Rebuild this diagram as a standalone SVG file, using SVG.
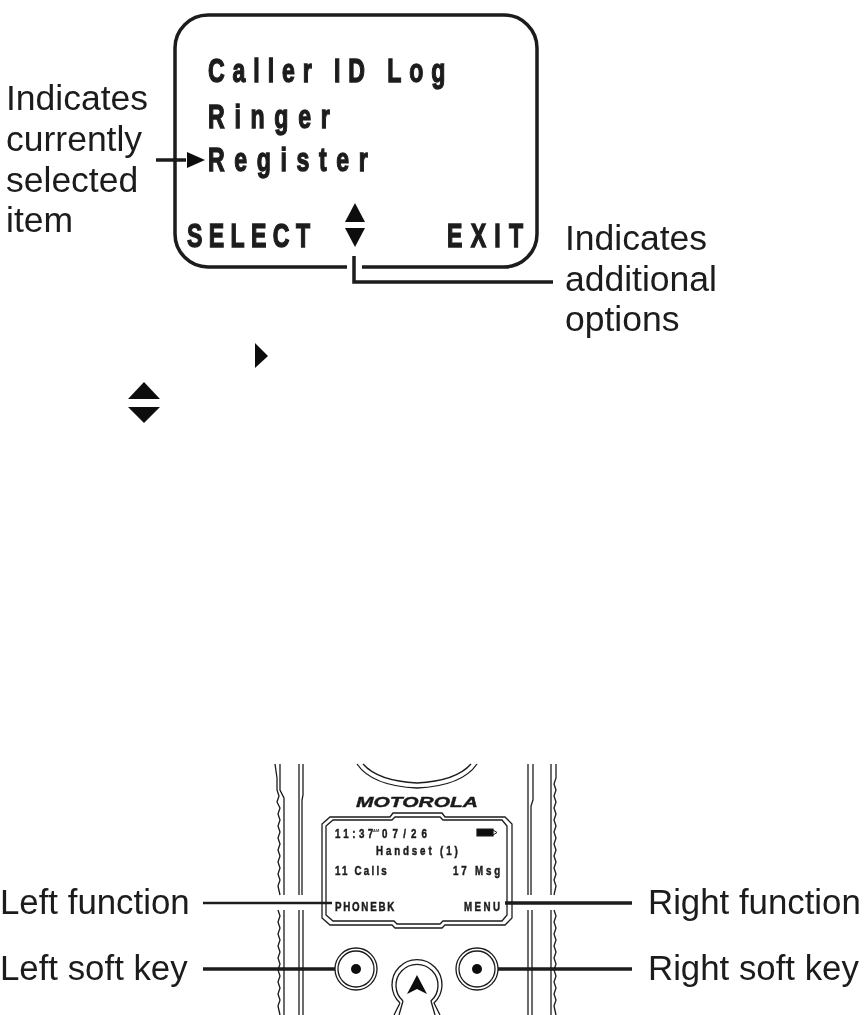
<svg xmlns="http://www.w3.org/2000/svg" width="865" height="1015" viewBox="0 0 865 1015">
<defs>
<style>
.lab{font-family:"Liberation Sans",Arial,sans-serif;font-size:35.500px;fill:#1a1a1a}
.lab2{font-family:"Liberation Sans",Arial,sans-serif;font-size:34.800px;fill:#1a1a1a}
.lcd{font-family:"Liberation Sans",Arial,sans-serif;font-weight:700;font-size:34px;fill:#1c1c1c;stroke:#1c1c1c;stroke-width:1.400px}
.sm{font-family:"Liberation Sans",Arial,sans-serif;font-weight:700;font-size:13px;fill:#1c1c1c;stroke:#1c1c1c;stroke-width:.5px}
.ln{fill:none;stroke:#1a1a1a;stroke-width:3.500px}
.ln2{fill:none;stroke:#1a1a1a;stroke-width:2.500px}
.th{fill:none;stroke:#1a1a1a;stroke-width:1.300px}
.tri{fill:#111}
</style>
<filter id="soft" x="-5%" y="-5%" width="110%" height="110%"><feGaussianBlur stdDeviation="0.45"/></filter>
</defs>
<rect width="865" height="1015" fill="#fff"/>
<g filter="url(#soft)">
<g id="screen">
<path class="ln" d="M347 267H208A33 33 0 0 1 175 234V48A33 33 0 0 1 208 15H504A33 33 0 0 1 537 48V234A33 33 0 0 1 504 267H362"/>
<text class="lcd" transform="translate(208 82) scale(.68 1)" textLength="349" lengthAdjust="spacing">Caller ID Log</text>
<text class="lcd" transform="translate(208 128) scale(.68 1)" textLength="179" lengthAdjust="spacing">Ringer</text>
<text class="lcd" transform="translate(208 171) scale(.68 1)" textLength="235" lengthAdjust="spacing">Register</text>
<text class="lcd" transform="translate(187 247) scale(.68 1)" textLength="181" lengthAdjust="spacing">SELECT</text>
<text class="lcd" transform="translate(447 247) scale(.68 1)" textLength="112" lengthAdjust="spacing">EXIT</text>
<polygon class="tri" points="187,152 205,160 187,168"/>
<polygon class="tri" points="355,203 365,222 345,222"/>
<polygon class="tri" points="345,228 365,228 355,247"/>
</g>
<g id="label-selected">
<text class="lab" x="6" y="110">Indicates</text>
<text class="lab" x="6" y="151">currently</text>
<text class="lab" x="6" y="192">selected</text>
<text class="lab" x="6" y="232">item</text>
</g>
<g id="label-options">
<text class="lab" x="565" y="250">Indicates</text>
<text class="lab" x="565" y="291">additional</text>
<text class="lab" x="565" y="331">options</text>
</g>
<g id="symbol-right"><polygon class="tri" points="255,343 268,356 255,368"/></g>
<g id="symbol-updown">
<polygon class="tri" points="144,382 160,399 128,399"/>
<polygon class="tri" points="128,407 160,407 144,423"/>
</g>
<g id="phone">
<g id="phone-body">
<path class="th" d="M275 764L277 778V790L279 796 277 802 280 808 278 814 280 820 278 826 280 832 278 838 280 844 278 850 280 856 278 862 280 868 278 874 280 880 278 886 280 895M278 910L280 916 278 922 280 928 278 934 280 940 278 946 280 952 278 958 280 964 278 970 280 976 278 982 280 988 278 994 280 1000 278 1006 280 1015"/>
<path class="th" d="M280 764V790L284 798V895M284 910V1015"/>
<path class="th" d="M299 764V895M299 910V1015"/>
<path class="th" d="M303 764V795L302 800V895M303 910V1015"/>
<path class="th" d="M528 764V895M528 910V1015"/>
<path class="th" d="M533 764V800L531 806V895M532 910V1015"/>
<path class="th" d="M551 764V895M551 910V1015"/>
<path class="th" d="M556 764V778L554 784 556 790 554 796 556 802 554 808 556 814 554 820 556 826 554 832 556 838 554 844 556 850 554 856 556 862 554 868 556 874 554 880 556 886 554 895M554 910L556 916 554 922 556 928 554 934 556 940 554 946 556 952 554 958 556 964 554 970 556 976 554 982 556 988 554 994 556 1000 554 1006 556 1015"/>
<path class="th" d="M357 764Q372 786 417 788Q462 786 477 764"/>
<path class="th" d="M363 764Q378 781 417 783Q456 781 471 764"/>
<text x="356" y="807" font-family="Liberation Sans,Arial,sans-serif" font-weight="700" font-style="italic" font-size="15.500" fill="#1a1a1a" stroke="#1a1a1a" stroke-width=".4" textLength="122" lengthAdjust="spacingAndGlyphs">MOTOROLA</text>
</g>
<g id="phone-display">
<path class="th" d="M330 817H390L393 813H442L445 817H505L512 824V918L505 925H445L442 928H395L392 925H330L322 918V824Z"/>
<path class="th" d="M333 820H392L395 817H440L443 820H502L507 826V915L502 921H443L440 924H397L394 921H333L326 915V826Z"/>
<text class="sm" transform="translate(335 838) scale(.75 1)" textLength="51" lengthAdjust="spacing">11:37</text>
<text class="sm" transform="translate(382 838) scale(.75 1)" textLength="60" lengthAdjust="spacing">07/26</text>
<text font-family="Liberation Sans,Arial,sans-serif" font-weight="700" font-size="4" fill="#333" x="373" y="832">AM</text>
<path d="M477 829H493V836H477Z" fill="#111" stroke="#1a1a1a" stroke-width="1.200"/>
<path d="M493 830L497 832.500L493 835" fill="none" stroke="#1a1a1a" stroke-width="1"/>
<text class="sm" transform="translate(376 855) scale(.75 1)" textLength="109" lengthAdjust="spacing">Handset (1)</text>
<text class="sm" transform="translate(335 875) scale(.75 1)" textLength="69" lengthAdjust="spacing">11 Calls</text>
<text class="sm" transform="translate(453 875) scale(.75 1)" textLength="63" lengthAdjust="spacing">17 Msg</text>
<text class="sm" transform="translate(335 911) scale(.75 1)" textLength="79" lengthAdjust="spacing">PHONEBK</text>
<text class="sm" transform="translate(464 911) scale(.75 1)" textLength="48" lengthAdjust="spacing">MENU</text>
</g>
<g id="left-key">
<circle class="th" cx="356" cy="969" r="21"/><circle class="th" cx="356" cy="969" r="18"/><circle class="tri" cx="356" cy="969" r="5"/>
</g>
<g id="right-key">
<circle class="th" cx="477" cy="969" r="21"/><circle class="th" cx="477" cy="969" r="18"/><circle class="tri" cx="477" cy="969" r="5"/>
</g>
<g id="center-key">
<path class="th" d="M400 1003A25 25 0 1 1 434 1003L440 1015M400 1003L394 1015"/>
<path class="th" d="M403 1001A21 21 0 1 1 431 1001L435 1015M403 1001L399 1015"/>
<polygon class="tri" points="417,975 427,994 417,989 407,994"/>
</g>
</g>
<g id="label-bottom">
<text class="lab2" x="0" y="914">Left function</text>
<text class="lab2" x="648" y="914">Right function</text>
<text class="lab2" x="0" y="980">Left soft key</text>
<text class="lab2" x="648" y="980">Right soft key</text>
</g>
<g id="connectors">
<path class="ln" d="M156 160H186"/>
<path class="ln" d="M354 256V282H553"/>
<path class="ln2" d="M203 903H332"/>
<path class="ln" d="M505 903H632"/>
<path class="ln" d="M203 969H335"/>
<path class="ln" d="M498 969H632"/>
</g>
</g>
</svg>
